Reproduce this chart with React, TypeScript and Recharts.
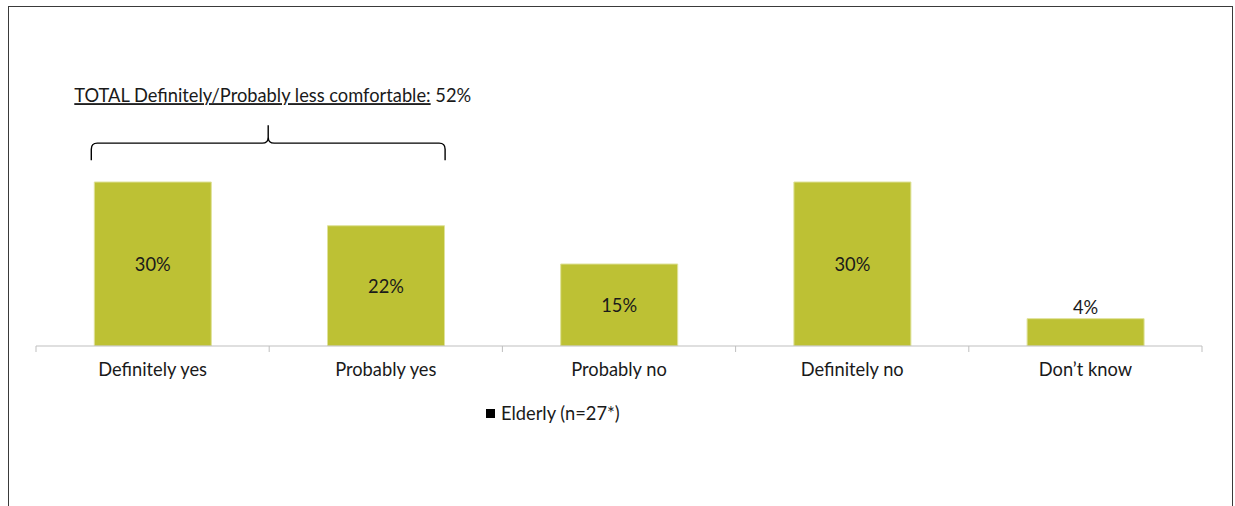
import React from 'react';
import { BarChart, Bar, XAxis, YAxis, LabelList, Legend, ReferenceArea } from 'recharts';

const categories = ['Definitely yes', 'Probably yes', 'Probably no', 'Definitely no', 'Don\u2019t know'];
const values = [30, 22, 15, 30, 5];
const valueLabels = ['30%', '22%', '15%', '30%', '4%'];
const seriesName = 'Elderly (n=27*)';
const bracketText = 'TOTAL Definitely/Probably less comfortable:';
const bracketValue = '52%';
const bracketFrom = 'Definitely yes';
const bracketTo = 'Probably yes';
const bracketLow = 34;
const bracketHigh = 40.4;

const data = categories.map((c, i) => ({ category: c, value: values[i], label: valueLabels[i] }));

const FONT = 'Lato, sans-serif';
const FS = 18.3;
const TEXT = '#1a1a1a';
const BAR = '#bdc134';
const AXIS = '#bfbfbf';
const TICK_MARGIN = 17;

const CategoryTick = (props: any) => {
  const { x, y, payload } = props;
  const half = payload.offset || 0;
  const axisY = y - TICK_MARGIN;
  const idx = categories.indexOf(payload.value);
  return (
    <g>
      <line x1={x - half} x2={x - half} y1={axisY} y2={axisY + 6} stroke={AXIS} />
      {idx === categories.length - 1 && (
        <line x1={x + half} x2={x + half} y1={axisY} y2={axisY + 6} stroke={AXIS} />
      )}
      <text x={x} y={y} dy="0.71em" textAnchor="middle" fill={TEXT} fontSize={FS} fontFamily={FONT}>
        {payload.value}
      </text>
    </g>
  );
};

const ValueLabel = (props: any) => {
  const { x, y, width, height, index } = props;
  const cx = x + width / 2;
  const inside = height > 35;
  return (
    <text
      x={cx}
      y={inside ? y + height / 2 : y - 12}
      textAnchor="middle"
      dominantBaseline="central"
      fill={TEXT}
      fontSize={FS}
      fontFamily={FONT}
    >
      {valueLabels[index]}
    </text>
  );
};

const BraceShape = (props: any) => {
  const { x, y, width, height } = props;
  const band = width / 2;
  const x1 = x + band * 0.25 - 3;
  const x2 = x + width - band * 0.25 + 1;
  const c = (x1 + x2) / 2;
  const top = y;
  const bottom = y + height;
  const h = top + 18;
  const r = 6;
  const d = [
    `M ${x1} ${bottom}`,
    `L ${x1} ${h + r}`,
    `Q ${x1} ${h} ${x1 + r} ${h}`,
    `L ${c - r} ${h}`,
    `Q ${c} ${h} ${c} ${h - r}`,
    `L ${c} ${top}`,
    `M ${c} ${h - r}`,
    `Q ${c} ${h} ${c + r} ${h}`,
    `L ${x2 - r} ${h}`,
    `Q ${x2} ${h} ${x2} ${h + r}`,
    `L ${x2} ${bottom}`,
  ].join(' ');
  return (
    <g>
      <path d={d} fill="none" stroke="#000" strokeWidth={1.4} />
      <text x={x1 - 17} y={top - 23} fill={TEXT} fontSize={FS} fontFamily={FONT}>
        <tspan style={{ textDecoration: 'underline' }}>{bracketText}</tspan>
        <tspan>{' ' + bracketValue}</tspan>
      </text>
    </g>
  );
};

const LegendContent = () => (
  <div
    style={{
      height: 34,
      display: 'flex',
      alignItems: 'center',
      paddingLeft: 450,
      fontFamily: FONT,
      fontSize: FS,
      color: TEXT,
    }}
  >
    <span style={{ display: 'inline-block', width: 9, height: 9, background: '#000', marginRight: 6 }} />
    <span>{seriesName}</span>
  </div>
);

export default function App() {
  return (
    <div style={{ position: 'absolute', left: 0, top: 0, width: 1235, height: 506, overflow: 'hidden', background: '#fff' }}>
      <div
        style={{
          position: 'absolute',
          left: 8,
          top: 6,
          width: 1225,
          height: 600,
          boxSizing: 'border-box',
          border: '1px solid #3a3a3a',
        }}
      />
      <div style={{ position: 'absolute', left: 0, top: 0 }}>
        <BarChart
          width={1235}
          height={506}
          data={data}
          margin={{ top: 18, right: 33, left: 36, bottom: 76 }}
          barCategoryGap="25%"
        >
          <XAxis
            dataKey="category"
            height={50}
            tickSize={0}
            tickMargin={TICK_MARGIN}
            tickLine={false}
            axisLine={{ stroke: AXIS }}
            tick={<CategoryTick />}
            interval={0}
          />
          <YAxis hide domain={[0, 60]} allowDataOverflow />
          <ReferenceArea
            x1={bracketFrom}
            x2={bracketTo}
            y1={bracketLow}
            y2={bracketHigh}
            shape={<BraceShape />}
          />
          <Bar dataKey="value" name={seriesName} fill={BAR} stroke="#dfe29a" strokeWidth={1} isAnimationActive={false}>
            <LabelList dataKey="value" content={<ValueLabel />} />
          </Bar>
          <Legend verticalAlign="bottom" align="left" content={<LegendContent />} />
        </BarChart>
      </div>
    </div>
  );
}
